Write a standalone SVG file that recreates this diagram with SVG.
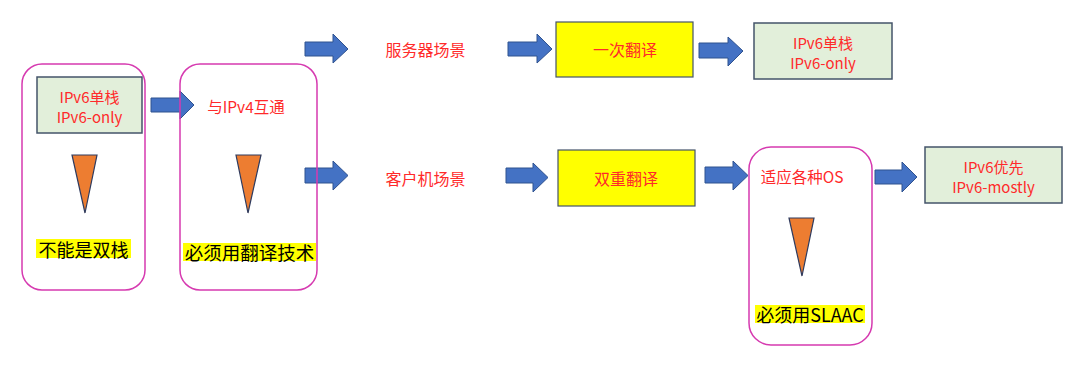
<svg xmlns="http://www.w3.org/2000/svg" width="1080" height="366" viewBox="0 0 1080 366">
<defs>
<style>
.t{font-family:"Noto Sans CJK SC","Liberation Sans",sans-serif;text-anchor:middle;dominant-baseline:central}
.red{fill:#ff2a2a}
.blk{fill:#000}
.grp{fill:none;stroke:#d63ab0;stroke-width:1.5}
.green{fill:#e2efda;stroke:#44546a;stroke-width:1.5}
.yel{fill:#ffff00;stroke:#44546a;stroke-width:1.2}
.hl{fill:#ffff00}
.arr{fill:#4472c4;stroke:#2f528f;stroke-width:1}
.tri{fill:#ed7d31;stroke:#2f3b5e;stroke-width:1.2}
</style>
</defs>
<rect width="1080" height="366" fill="#fff"/>

<g id="connectors">
<path class="arr" d="M151,98 H180 V91 L194,105 L180,119 V112 H151 Z"/>
<path class="arr" d="M305,42 H333 V34 L348,49 L333,63 V56 H305 Z"/>
<path class="arr" d="M305,168 H333 V161 L348,175.5 L333,190 V183 H305 Z"/>
<path class="arr" d="M508,42 H537 V34 L552,49 L537,63 V56 H508 Z"/>
<path class="arr" d="M506,168 H533 V163 L548,177.5 L533,192 V183 H506 Z"/>
<path class="arr" d="M699,43 H728 V37 L743,51 L728,66 V58 H699 Z"/>
<path class="arr" d="M705,167 H733 V161 L748,175.5 L733,190 V183 H705 Z"/>
<path class="arr" d="M875,170 H902 V162 L917,177 L902,192 V184 H875 Z"/>
</g>

<g id="node-ipv6only-group">
<rect class="grp" x="22" y="64" width="123" height="226" rx="20"/>
</g>
<g id="node-ipv6only">
<rect class="green" x="37" y="77" width="105" height="56"/>
<text class="t red" x="89.5" y="96" font-size="15">IPv6单栈</text>
<text class="t red" x="89.5" y="116" font-size="15">IPv6-only</text>
</g>
<g id="node-tri1">
<path class="tri" d="M72,155 H97 L85,213 Z"/>
</g>
<g id="node-nodual">
<rect class="hl" x="36" y="239" width="95" height="19"/>
<text class="t blk" x="83.5" y="248.5" font-size="18">不能是双栈</text>
</g>

<g id="node-interop-group">
<rect class="grp" x="180" y="64" width="137" height="226" rx="20"/>
</g>
<g id="node-interop">
<text class="t red" x="246" y="106" font-size="15.5">与IPv4互通</text>
</g>
<g id="node-tri2">
<path class="tri" d="M236,155 H261 L248,213 Z"/>
</g>
<g id="node-translate">
<rect class="hl" x="183" y="243" width="133" height="18"/>
<text class="t blk" x="249.5" y="252" font-size="18.5">必须用翻译技术</text>
</g>

<g id="node-server">
<text class="t red" x="425.5" y="49" font-size="16">服务器场景</text>
</g>
<g id="node-client">
<text class="t red" x="425.5" y="178" font-size="16">客户机场景</text>
</g>

<g id="node-single-trans">
<rect class="yel" x="556" y="22" width="137" height="55"/>
<text class="t red" x="625" y="49" font-size="16">一次翻译</text>
</g>
<g id="node-double-trans">
<rect class="yel" x="558" y="150" width="137" height="56"/>
<text class="t red" x="626" y="178" font-size="16">双重翻译</text>
</g>

<g id="node-ipv6only-2">
<rect class="green" x="754" y="23" width="138" height="56"/>
<text class="t red" x="823" y="42" font-size="15">IPv6单栈</text>
<text class="t red" x="823" y="62" font-size="15">IPv6-only</text>
</g>

<g id="node-os-group">
<rect class="grp" x="749" y="147" width="123" height="198" rx="22"/>
</g>
<g id="node-os">
<text class="t red" x="802" y="176" font-size="15.5">适应各种OS</text>
</g>
<g id="node-tri3">
<path class="tri" d="M789,218 H814 L802,276 Z"/>
</g>
<g id="node-slaac">
<rect class="hl" x="755" y="305" width="110" height="18"/>
<text class="t blk" x="810" y="314" font-size="18">必须用SLAAC</text>
</g>

<g id="node-mostly">
<rect class="green" x="925" y="147" width="137" height="56"/>
<text class="t red" x="993.5" y="166" font-size="15">IPv6优先</text>
<text class="t red" x="993.5" y="186" font-size="15">IPv6-mostly</text>
</g>
</svg>
